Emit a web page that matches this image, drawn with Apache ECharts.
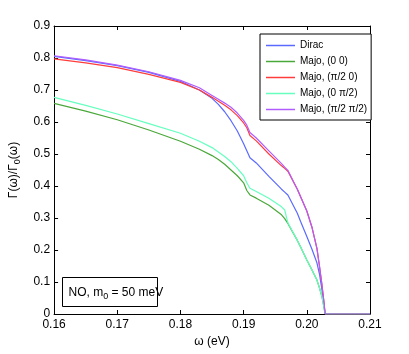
<!DOCTYPE html>
<html>
<head>
<meta charset="utf-8">
<script src="https://cdn.jsdelivr.net/npm/echarts@6/dist/echarts.min.js"></script>
<style>
    html, body { margin: 0; padding: 0; background: #fff; }
    #chart { width: 409px; height: 354px; }
</style>
</head>
<body>
<div id="chart"></div>
<script>
var FONT = "'Liberation Sans', Arial, sans-serif";

// omega grid (eV)
var omega = [0.16, 0.165, 0.17, 0.175, 0.18, 0.183, 0.185, 0.186, 0.187, 0.188, 0.189, 0.19, 0.1905, 0.191, 0.192, 0.194, 0.196, 0.1965, 0.197, 0.1985, 0.199, 0.2, 0.2008, 0.2016, 0.202, 0.2024, 0.2027, 0.2029, 0.21];

var seriesNames = ['Dirac', 'Majo, (0 0)', 'Majo, (\u03c0/2 0)', 'Majo, (0 \u03c0/2)', 'Majo, (\u03c0/2 \u03c0/2)'];
var seriesColors = ['#5a6aff', '#4aa83a', '#ff3c3c', '#66ffbf', '#b05cff'];

var dirac    = [0.805, 0.792, 0.776, 0.755, 0.727, 0.700, 0.674, 0.655, 0.632, 0.604, 0.572, 0.532, 0.510, 0.488, 0.472, 0.430, 0.390, 0.381, 0.372, 0.315, 0.290, 0.242, 0.203, 0.160, 0.125, 0.075, 0.030, 0, 0];
var majo00   = [0.658, 0.634, 0.607, 0.575, 0.540, 0.515, 0.495, 0.483, 0.468, 0.450, 0.432, 0.410, 0.386, 0.372, 0.362, 0.340, 0.310, 0.298, 0.283, 0.230, 0.210, 0.169, 0.138, 0.106, 0.082, 0.054, 0.022, 0, 0];
var majoPi0  = [0.797, 0.785, 0.770, 0.749, 0.724, 0.700, 0.677, 0.665, 0.652, 0.638, 0.620, 0.597, 0.582, 0.558, 0.541, 0.500, 0.463, 0.455, 0.446, 0.390, 0.367, 0.322, 0.272, 0.205, 0.150, 0.090, 0.040, 0, 0];
var majo0Pi  = [0.677, 0.652, 0.625, 0.595, 0.565, 0.540, 0.520, 0.506, 0.492, 0.476, 0.455, 0.432, 0.410, 0.393, 0.383, 0.362, 0.335, 0.325, 0.285, 0.230, 0.210, 0.169, 0.138, 0.106, 0.082, 0.054, 0.022, 0, 0];
var majoPiPi = [0.807, 0.794, 0.778, 0.757, 0.730, 0.707, 0.683, 0.671, 0.659, 0.646, 0.628, 0.605, 0.590, 0.567, 0.550, 0.510, 0.470, 0.459, 0.449, 0.390, 0.367, 0.322, 0.272, 0.205, 0.150, 0.090, 0.040, 0, 0];

var allValues = [dirac, majo00, majoPi0, majo0Pi, majoPiPi];

function pairs(vals) {
    return omega.map(function (w, i) { return [w, vals[i]]; });
}

var chart = echarts.init(document.getElementById('chart'));

var series = allValues.map(function (vals, k) {
    return {
        name: seriesNames[k],
        type: 'line',
        symbol: 'none',
        data: pairs(vals),
        lineStyle: { color: seriesColors[k], width: 1.2 },
        itemStyle: { color: seriesColors[k] },
        z: 2 + k
    };
});

var boxLine = { show: true, onZero: false, lineStyle: { color: '#000', width: 1 } };
var inTick = { show: true, inside: true, length: 4, lineStyle: { color: '#000', width: 1 } };

var option = {
    animation: false,
    backgroundColor: '#fff',
    grid: { left: 53, right: 39, top: 26, bottom: 40 },
    legend: {
        orient: 'vertical',
        left: 260,
        top: 34,
        data: seriesNames,
        icon: 'rect',
        backgroundColor: '#fff',
        borderColor: '#000',
        borderWidth: 1,
        borderRadius: 0,
        padding: [5, 4, 4, 6],
        itemGap: 3,
        itemWidth: 29,
        itemHeight: 1.5,
        textStyle: { fontFamily: FONT, fontSize: 10, color: '#000', lineHeight: 13 }
    },
    xAxis: [{
        type: 'value',
        min: 0.16,
        max: 0.21,
        interval: 0.01,
        name: '\u03c9 (eV)',
        nameLocation: 'middle',
        nameGap: 22,
        nameTextStyle: { fontFamily: FONT, fontSize: 12, color: '#000' },
        axisLine: boxLine,
        axisTick: inTick,
        splitLine: { show: false },
        axisLabel: {
            fontFamily: FONT, fontSize: 12, color: '#000', margin: 5,
            formatter: function (v) { return v.toFixed(2); }
        }
    }, {
        type: 'value',
        position: 'top',
        min: 0.16,
        max: 0.21,
        interval: 0.01,
        axisLine: boxLine,
        axisTick: inTick,
        splitLine: { show: false },
        axisLabel: { show: false }
    }],
    yAxis: [{
        type: 'value',
        min: 0,
        max: 0.9,
        interval: 0.1,
        name: '\u0393(\u03c9)/\u0393{sub|0}(\u03c9)',
        nameLocation: 'middle',
        nameGap: 21,
        nameTextStyle: {
            fontFamily: FONT, fontSize: 12, color: '#000',
            rich: { sub: { fontFamily: FONT, fontSize: 9, padding: [8, 0, 0, 0] } }
        },
        axisLine: boxLine,
        axisTick: inTick,
        splitLine: { show: false },
        axisLabel: {
            fontFamily: FONT, fontSize: 12, color: '#000', margin: 4,
            formatter: function (v) { return v === 0 ? '0' : v.toFixed(1); }
        }
    }, {
        type: 'value',
        position: 'right',
        min: 0,
        max: 0.9,
        interval: 0.1,
        axisLine: boxLine,
        axisTick: inTick,
        splitLine: { show: false },
        axisLabel: { show: false }
    }],
    graphic: [{
        type: 'group',
        left: 62,
        top: 277,
        children: [{
            type: 'rect',
            shape: { x: 0, y: 0, width: 95, height: 29 },
            style: { fill: '#fff', stroke: '#000', lineWidth: 1 }
        }, {
            type: 'text',
            x: 6,
            y: 7,
            style: {
                text: 'NO, m{s|0} = 50 meV',
                fontFamily: FONT,
                fontSize: 12,
                fill: '#000',
                rich: { s: { fontFamily: FONT, fontSize: 9, padding: [8, 0, 0, 0] } }
            }
        }]
    }],
    series: series
};

chart.setOption(option);
</script>
</body>
</html>
